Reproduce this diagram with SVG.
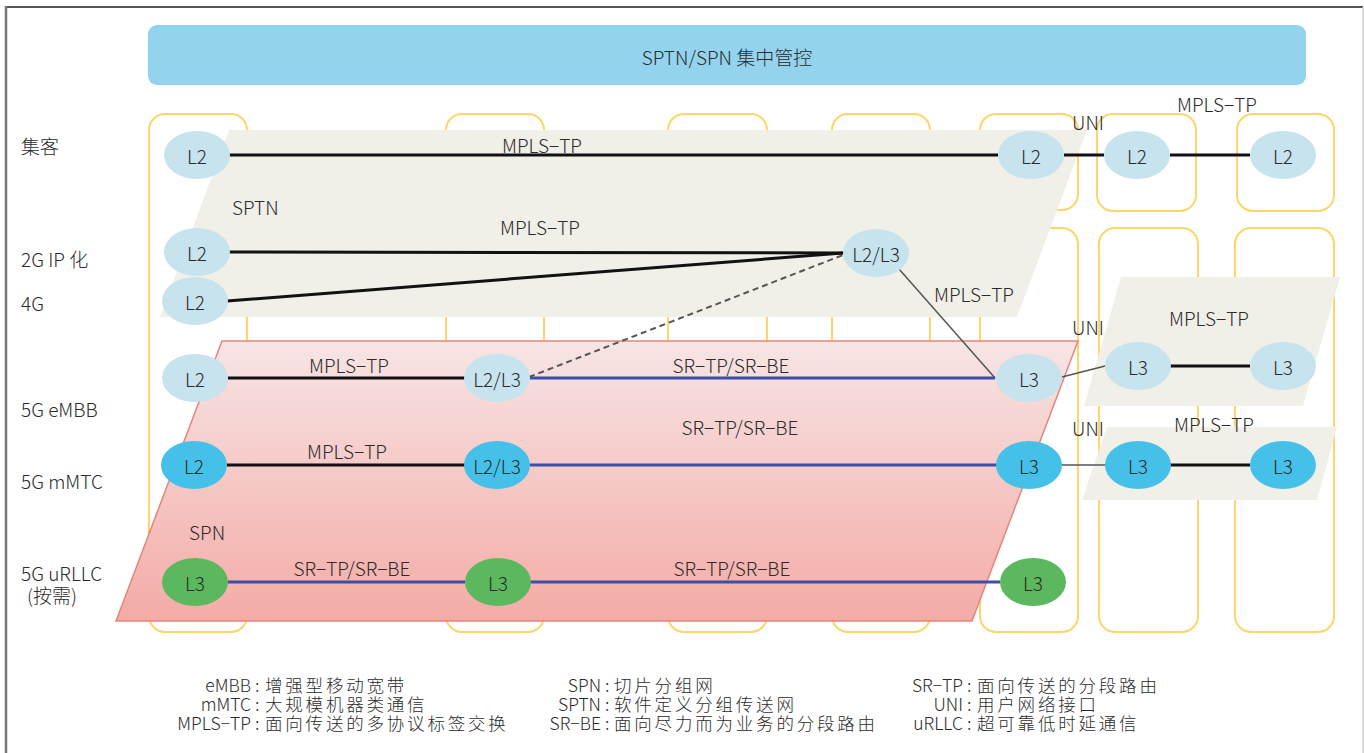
<svg xmlns="http://www.w3.org/2000/svg" width="1364" height="753" viewBox="0 0 1364 753">
  <defs>
    <linearGradient id="spnFill" x1="0" y1="0" x2="0" y2="1">
      <stop offset="0" stop-color="#f7e5e5"/>
      <stop offset="1" stop-color="#f4aba6"/>
    </linearGradient>
    <style>
      text { font-family: "Noto Sans CJK SC", "Noto Sans", sans-serif; fill: #2b2b2b; font-weight: 300; }
      .lbl { font-size: 19px; text-anchor: middle; dominant-baseline: central; }
      .side { font-size: 19px; dominant-baseline: central; }
      .leg { font-size: 17.5px; dominant-baseline: central; }
      .cjk { letter-spacing: 2.8px; }
      .col { fill: none; stroke: #fdd56a; stroke-width: 2; }
      .plane { fill: #f0efe8; }
      .lb { fill: #c6e3ee; }
      .db { fill: #45c0e9; }
      .gr { fill: #5cb85e; }
      .blk { stroke: #111; stroke-width: 3; fill: none; }
      .blu { stroke: #3c4ea6; stroke-width: 3; fill: none; }
      .thin { stroke: #555; stroke-width: 1.5; fill: none; }
      .dash { stroke: #555; stroke-width: 2; stroke-dasharray: 6 4; fill: none; }
    </style>
  </defs>

  <rect width="1364" height="753" fill="#ffffff"/>
  <!-- frame -->
  <line x1="6" y1="7" x2="1363" y2="7" stroke="#555" stroke-width="2"/>
  <line x1="6" y1="6" x2="6" y2="753" stroke="#777" stroke-width="2.5"/>
  <line x1="1363" y1="7" x2="1363" y2="753" stroke="#ccc" stroke-width="1.5"/>

  <!-- central control bar -->
  <g id="control">
    <rect x="148" y="25" width="1158" height="60" rx="9" fill="#93d3ee"/>
    <text class="lbl" x="727" y="56">SPTN/SPN 集中管控</text>
  </g>

  <!-- equipment columns -->
  <g id="columns">
    <rect class="col" x="149" y="114" width="98" height="518" rx="16"/>
    <rect class="col" x="446" y="114" width="98" height="518" rx="16"/>
    <rect class="col" x="668" y="114" width="99" height="518" rx="16"/>
    <rect class="col" x="832" y="114" width="98" height="518" rx="16"/>
    <rect class="col" x="980" y="114" width="98" height="96" rx="16"/>
    <rect class="col" x="980" y="228" width="98" height="404" rx="16"/>
    <rect class="col" x="1097" y="114" width="99" height="97" rx="16"/>
    <rect class="col" x="1099" y="228" width="99" height="404" rx="16"/>
    <rect class="col" x="1237" y="114" width="97" height="97" rx="16"/>
    <rect class="col" x="1235" y="228" width="99" height="404" rx="16"/>
  </g>

  <!-- network planes -->
  <g id="sptn-plane">
    <polygon class="plane" points="229,130 1087,130 1017,317 160,317"/>
    <text class="side" x="232" y="206" font-size="16" font-weight="400">SPTN</text>
  </g>
  <g id="uni-plane-1">
    <polygon class="plane" points="1121,277 1340,277 1303,406 1084,406"/>
  </g>
  <g id="uni-plane-2">
    <polygon class="plane" points="1107,427 1337,427 1317,500 1082,500"/>
  </g>
  <g id="spn-plane">
    <polygon points="222,341 1078,341 972,621 116,621" fill="url(#spnFill)" stroke="#e3857c" stroke-width="1.5"/>
    <text class="side" x="189" y="531" font-size="16" font-weight="400">SPN</text>
  </g>

  <!-- service labels on the left -->
  <g id="service-labels">
    <text class="side" x="21" y="145">集客</text>
    <text class="side" x="21" y="258">2G IP 化</text>
    <text class="side" x="21" y="302">4G</text>
    <text class="side" x="21" y="408">5G eMBB</text>
    <text class="side" x="21" y="480">5G mMTC</text>
    <text class="side" x="21" y="572">5G uRLLC</text>
    <text class="side" x="27" y="594">(按需)</text>
  </g>

  <!-- connectors -->
  <g id="connectors">
    <line class="blk" x1="229" y1="155" x2="998" y2="155"/>
    <line class="blk" x1="1064" y1="155" x2="1104" y2="155"/>
    <line class="blk" x1="1170" y1="155" x2="1250" y2="155"/>
    <line class="blk" x1="229" y1="252" x2="843" y2="253"/>
    <line class="blk" x1="227" y1="301" x2="843" y2="253"/>
    <line class="dash" x1="529" y1="377" x2="843" y2="255"/>
    <line class="thin" x1="899" y1="269" x2="995" y2="378"/>
    <line class="blk" x1="228" y1="378" x2="465" y2="378"/>
    <line class="blu" x1="530" y1="378" x2="995" y2="378"/>
    <line class="thin" x1="1062" y1="377" x2="1105" y2="366"/>
    <line class="blk" x1="1170" y1="366" x2="1250" y2="366"/>
    <line class="blk" x1="227" y1="465" x2="465" y2="465"/>
    <line class="blu" x1="530" y1="465" x2="997" y2="465"/>
    <line class="thin" x1="1062" y1="465" x2="1105" y2="465"/>
    <line class="blk" x1="1170" y1="465" x2="1250" y2="465"/>
    <line class="blu" x1="228" y1="582" x2="465" y2="582"/>
    <line class="blu" x1="530" y1="582" x2="1000" y2="582"/>
  </g>

  <!-- connector labels -->
  <g id="link-labels">
    <text class="lbl" x="542" y="144">MPLS−TP</text>
    <text class="lbl" x="540" y="226">MPLS−TP</text>
    <text class="lbl" x="974" y="293">MPLS−TP</text>
    <text class="lbl" x="1088" y="121">UNI</text>
    <text class="lbl" x="1217" y="103">MPLS−TP</text>
    <text class="lbl" x="1088" y="326">UNI</text>
    <text class="lbl" x="1209" y="317">MPLS−TP</text>
    <text class="lbl" x="1088" y="427">UNI</text>
    <text class="lbl" x="1214" y="423">MPLS−TP</text>
    <text class="lbl" x="349" y="364">MPLS−TP</text>
    <text class="lbl" x="731" y="364">SR−TP/SR−BE</text>
    <text class="lbl" x="347" y="450">MPLS−TP</text>
    <text class="lbl" x="740" y="426">SR−TP/SR−BE</text>
    <text class="lbl" x="352" y="567">SR−TP/SR−BE</text>
    <text class="lbl" x="732" y="567">SR−TP/SR−BE</text>
  </g>

  <!-- nodes -->
  <g id="n-jk-1"><ellipse class="lb" cx="197" cy="155" rx="33" ry="24"/><text class="lbl" x="197" y="155">L2</text></g>
  <g id="n-jk-2"><ellipse class="lb" cx="1031" cy="155" rx="33" ry="24"/><text class="lbl" x="1031" y="155">L2</text></g>
  <g id="n-jk-3"><ellipse class="lb" cx="1137" cy="155" rx="33" ry="24"/><text class="lbl" x="1137" y="155">L2</text></g>
  <g id="n-jk-4"><ellipse class="lb" cx="1283" cy="155" rx="33" ry="24"/><text class="lbl" x="1283" y="155">L2</text></g>

  <g id="n-2g"><ellipse class="lb" cx="197" cy="252" rx="33" ry="24"/><text class="lbl" x="197" y="252">L2</text></g>
  <g id="n-4g"><ellipse class="lb" cx="195" cy="301" rx="33" ry="24"/><text class="lbl" x="195" y="301">L2</text></g>
  <g id="n-sptn-agg"><ellipse class="lb" cx="876" cy="253" rx="33" ry="24"/><text class="lbl" x="876" y="253">L2/L3</text></g>

  <g id="n-embb-1"><ellipse class="lb" cx="195" cy="378" rx="33" ry="24"/><text class="lbl" x="195" y="378">L2</text></g>
  <g id="n-embb-2"><ellipse class="lb" cx="497" cy="378" rx="33" ry="24"/><text class="lbl" x="497" y="378">L2/L3</text></g>
  <g id="n-embb-3"><ellipse class="lb" cx="1029" cy="378" rx="33" ry="24"/><text class="lbl" x="1029" y="378">L3</text></g>
  <g id="n-embb-4"><ellipse class="lb" cx="1138" cy="366" rx="33" ry="24"/><text class="lbl" x="1138" y="366">L3</text></g>
  <g id="n-embb-5"><ellipse class="lb" cx="1283" cy="366" rx="33" ry="24"/><text class="lbl" x="1283" y="366">L3</text></g>

  <g id="n-mmtc-1"><ellipse class="db" cx="194" cy="465" rx="33" ry="24"/><text class="lbl" x="194" y="465">L2</text></g>
  <g id="n-mmtc-2"><ellipse class="db" cx="497" cy="465" rx="33" ry="24"/><text class="lbl" x="497" y="465">L2/L3</text></g>
  <g id="n-mmtc-3"><ellipse class="db" cx="1029" cy="465" rx="33" ry="24"/><text class="lbl" x="1029" y="465">L3</text></g>
  <g id="n-mmtc-4"><ellipse class="db" cx="1138" cy="465" rx="33" ry="24"/><text class="lbl" x="1138" y="465">L3</text></g>
  <g id="n-mmtc-5"><ellipse class="db" cx="1283" cy="465" rx="33" ry="24"/><text class="lbl" x="1283" y="465">L3</text></g>

  <g id="n-urllc-1"><ellipse class="gr" cx="195" cy="582" rx="33" ry="24"/><text class="lbl" x="195" y="582">L3</text></g>
  <g id="n-urllc-2"><ellipse class="gr" cx="498" cy="582" rx="33" ry="24"/><text class="lbl" x="498" y="582">L3</text></g>
  <g id="n-urllc-3"><ellipse class="gr" cx="1033" cy="582" rx="33" ry="24"/><text class="lbl" x="1033" y="582">L3</text></g>

  <!-- glossary -->
  <g id="legend">
    <text class="leg" x="251" y="684" text-anchor="end">eMBB</text>
    <text class="leg" x="251" y="703" text-anchor="end">mMTC</text>
    <text class="leg" x="251" y="722" text-anchor="end">MPLS−TP</text>
    <text class="leg" x="255" y="684">:</text>
    <text class="leg" x="255" y="703">:</text>
    <text class="leg" x="255" y="722">:</text>
    <text class="leg cjk" x="265" y="684">增强型移动宽带</text>
    <text class="leg cjk" x="265" y="703">大规模机器类通信</text>
    <text class="leg cjk" x="265" y="722">面向传送的多协议标签交换</text>

    <text class="leg" x="601" y="684" text-anchor="end">SPN</text>
    <text class="leg" x="601" y="703" text-anchor="end">SPTN</text>
    <text class="leg" x="601" y="722" text-anchor="end">SR−BE</text>
    <text class="leg" x="605" y="684">:</text>
    <text class="leg" x="605" y="703">:</text>
    <text class="leg" x="605" y="722">:</text>
    <text class="leg cjk" x="614" y="684">切片分组网</text>
    <text class="leg cjk" x="614" y="703">软件定义分组传送网</text>
    <text class="leg cjk" x="614" y="722">面向尽力而为业务的分段路由</text>

    <text class="leg" x="963" y="684" text-anchor="end">SR−TP</text>
    <text class="leg" x="963" y="703" text-anchor="end">UNI</text>
    <text class="leg" x="963" y="722" text-anchor="end">uRLLC</text>
    <text class="leg" x="967" y="684">:</text>
    <text class="leg" x="967" y="703">:</text>
    <text class="leg" x="967" y="722">:</text>
    <text class="leg cjk" x="977" y="684">面向传送的分段路由</text>
    <text class="leg cjk" x="977" y="703">用户网络接口</text>
    <text class="leg cjk" x="977" y="722">超可靠低时延通信</text>
  </g>
</svg>
